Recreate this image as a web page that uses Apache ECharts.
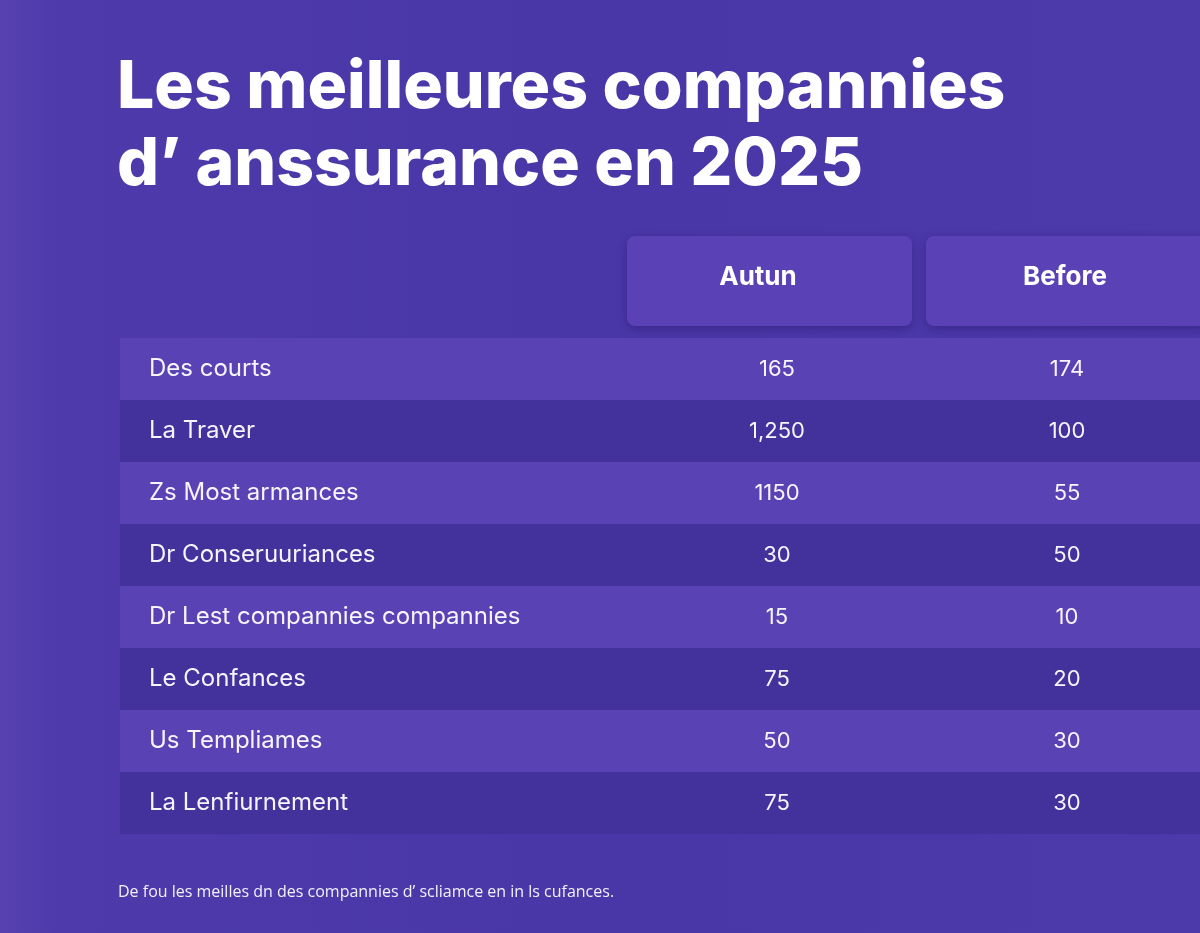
<!DOCTYPE html>
<html>
<head>
<meta charset="utf-8">
<script src="https://cdn.jsdelivr.net/npm/echarts@6/dist/echarts.min.js"></script>
<style>
  html, body { margin: 0; padding: 0; }
  #chart { width: 1200px; height: 933px; }
</style>
</head>
<body>
<div id="chart"></div>
<script>
// Donnees du tableau
const rowNames = [
    'Des courts',
    'La Traver',
    'Zs Most armances',
    'Dr Conseruuriances',
    'Dr Lest compannies compannies',
    'Le Confances',
    'Us Templiames',
    'La Lenfiurnement'
];
const columnNames = ['Autun', 'Before'];
const autunValues = ['165', '1,250', '1150', '30', '15', '75', '50', '75'];
const beforeValues = ['174', '100', '55', '50', '10', '20', '30', '30'];

// Mise en page (unites = largeur du tableau, 1080)
const nameX = 29;
const valueX = [657, 947];
const headerBox = [[507, 792], [806, 1092]];
const headerTextX = [638, 945];

const chart = echarts.init(document.getElementById('chart'));

const rowData = rowNames.map((name, i) => [i, name, autunValues[i], beforeValues[i]]);

chart.setOption({
    backgroundColor: {
        type: 'linear', x: 0, y: 0, x2: 1, y2: 0,
        colorStops: [
            { offset: 0, color: '#5741b0' },
            { offset: 0.05, color: '#4e3aaa' },
            { offset: 0.5, color: '#4a37a7' },
            { offset: 1, color: '#4c39aa' }
        ]
    },
    title: [
        {
            text: 'Les meilleures compannies\nd\u2019 anssurance en 2025',
            left: 117,
            top: 50,
            padding: 0,
            textStyle: {
                color: '#ffffff',
                fontFamily: 'Inter',
                fontWeight: 800,
                fontSize: 66,
                lineHeight: 77
            }
        },
        {
            text: 'De fou les meilles dn des compannies d\u2019 scliamce en in ls cufances.',
            left: 118,
            top: 884,
            padding: 0,
            textStyle: {
                color: '#f2f0fb',
                fontFamily: 'Open Sans',
                fontWeight: 'normal',
                fontSize: 16
            }
        }
    ],
    grid: { left: 120, right: 0, top: 338, bottom: 99 },
    xAxis: { type: 'value', min: 0, max: 1080, show: false },
    yAxis: { type: 'category', data: rowNames, inverse: true, show: false },
    series: [
        {
            // En-tetes de colonnes
            type: 'custom',
            silent: true,
            data: columnNames.map((c, i) => [i, c]),
            encode: { x: -1, y: -1 },
            renderItem: function(params, api) {
                const i = api.value(0);
                const top = api.coord([0, 0])[1] - api.size([0, 1])[1] / 2;
                const x0 = api.coord([headerBox[i][0], 0])[0];
                const x1 = api.coord([headerBox[i][1], 0])[0];
                return {
                    type: 'group',
                    children: [
                        {
                            type: 'rect',
                            shape: { x: x0, y: top - 102, width: x1 - x0, height: 90, r: 8 },
                            style: {
                                fill: '#5a41b5',
                                shadowBlur: 10,
                                shadowColor: 'rgba(30,15,90,0.35)',
                                shadowOffsetY: 3
                            }
                        },
                        {
                            type: 'text',
                            x: api.coord([headerTextX[i], 0])[0],
                            y: top - 61,
                            style: {
                                text: columnNames[i],
                                fill: '#ffffff',
                                font: 'bold 26px Inter',
                                align: 'center',
                                verticalAlign: 'middle'
                            }
                        }
                    ]
                };
            }
        },
        {
            // Lignes du tableau
            type: 'custom',
            silent: true,
            data: rowData,
            encode: { y: 0 },
            renderItem: function(params, api) {
                const row = api.value(0);
                const band = api.size([0, 1])[1];
                const center = api.coord([0, row]);
                const cs = params.coordSys;
                const txt = {
                    fill: '#f6f4fd',
                    verticalAlign: 'middle'
                };
                return {
                    type: 'group',
                    children: [
                        {
                            type: 'rect',
                            shape: { x: cs.x, y: center[1] - band / 2, width: cs.width, height: band },
                            style: { fill: row % 2 === 0 ? '#5942b3' : '#43319c' }
                        },
                        {
                            type: 'text',
                            x: api.coord([nameX, row])[0],
                            y: center[1],
                            style: Object.assign({ text: rowNames[row], align: 'left', font: '24px Inter' }, txt)
                        },
                        {
                            type: 'text',
                            x: api.coord([valueX[0], row])[0],
                            y: center[1],
                            style: Object.assign({ text: autunValues[row], align: 'center', font: '22px Inter' }, txt)
                        },
                        {
                            type: 'text',
                            x: api.coord([valueX[1], row])[0],
                            y: center[1],
                            style: Object.assign({ text: beforeValues[row], align: 'center', font: '22px Inter' }, txt)
                        }
                    ]
                };
            }
        }
    ]
});

window.addEventListener('resize', function() {
    chart.resize();
});
</script>
</body>
</html>
